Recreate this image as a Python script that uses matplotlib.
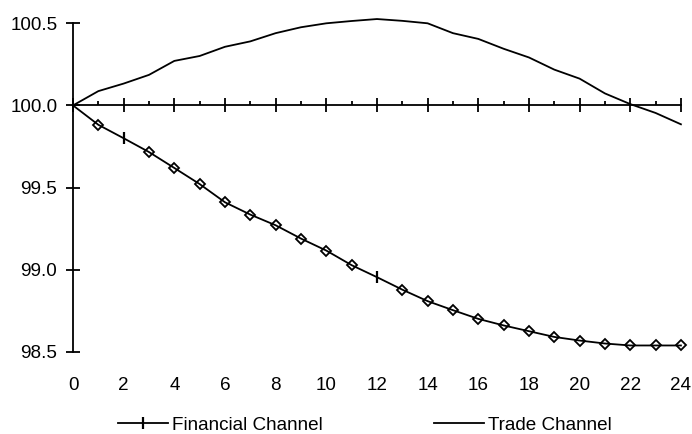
import matplotlib
matplotlib.use("Agg")
import matplotlib.pyplot as plt
from matplotlib.ticker import MultipleLocator

plt.rcParams['font.family'] = ['Liberation Sans', 'DejaVu Sans']

months = list(range(25))
financial = [100.0, 99.882, 99.80, 99.716, 99.619, 99.521, 99.41, 99.335, 99.27,
             99.189, 99.116, 99.027, 98.954, 98.878, 98.808, 98.753, 98.70, 98.66,
             98.625, 98.59, 98.568, 98.55, 98.538, 98.538, 98.538]
trade = [100.0, 100.087, 100.133, 100.186, 100.271, 100.301, 100.357, 100.39, 100.44,
         100.476, 100.50, 100.514, 100.526, 100.515, 100.50, 100.44, 100.405, 100.345,
         100.292, 100.218, 100.163, 100.073, 100.008, 99.954, 99.885]
xtick_labels = [str(v) for v in range(0, 25, 2)]
ytick_values = [98.5, 99.0, 99.5, 100.0, 100.5]

fig = plt.figure(figsize=(6.92, 4.34), dpi=100)
ax = fig.add_axes([0.1055, 0.1896, 0.8785, 0.7567])

fs = 13.6
lw = 1.3

cross_idx = [2, 12]
diamond_idx = [i for i in months if i not in cross_idx and i != 0]

ax.plot(months, financial, color='black', lw=lw, marker='|', markersize=9,
        markeredgewidth=1.6, markevery=cross_idx, label='Financial Channel',
        clip_on=False, zorder=3)
ax.plot(months, financial, linestyle='none', marker='D', markersize=5.5,
        markerfacecolor='none', markeredgecolor='black', markeredgewidth=1.3,
        markevery=diamond_idx, clip_on=False, zorder=4)
ax.plot(months, trade, color='black', lw=lw, label='Trade Channel',
        clip_on=False, zorder=3)

ax.set_xlim(0, 24)
ax.set_ylim(98.5, 100.5)

for s in ['top', 'right']:
    ax.spines[s].set_visible(False)
ax.spines['bottom'].set_position(('data', 100.0))
ax.spines['bottom'].set_linewidth(lw)
ax.spines['left'].set_linewidth(lw)

ax.xaxis.set_major_locator(MultipleLocator(2))
ax.xaxis.set_minor_locator(MultipleLocator(1))
ax.tick_params(axis='x', which='major', direction='inout', length=9.6, width=lw,
               labelbottom=False)
ax.tick_params(axis='x', which='minor', direction='in', length=3, width=lw)

ax.set_yticks(ytick_values)
ax.set_yticklabels([f"{v:.1f}" for v in ytick_values])
ax.tick_params(axis='y', direction='inout', length=9.6, width=lw, labelsize=fs, pad=6.5)

sec = ax.secondary_xaxis('bottom')
sec.set_xticks(list(range(0, 25, 2)))
sec.set_xticklabels(xtick_labels)
sec.spines['bottom'].set_visible(False)
sec.tick_params(axis='x', length=0, labelsize=fs, pad=18)
sec.xaxis.set_minor_locator(plt.NullLocator())

fig.legend(loc='center', bbox_to_anchor=(0.5267, 0.02), ncol=2, frameon=False,
           fontsize=fs, handlelength=2.65, handletextpad=0.2, columnspacing=5.9,
           numpoints=1)

fig.savefig('out.png', dpi=100)
